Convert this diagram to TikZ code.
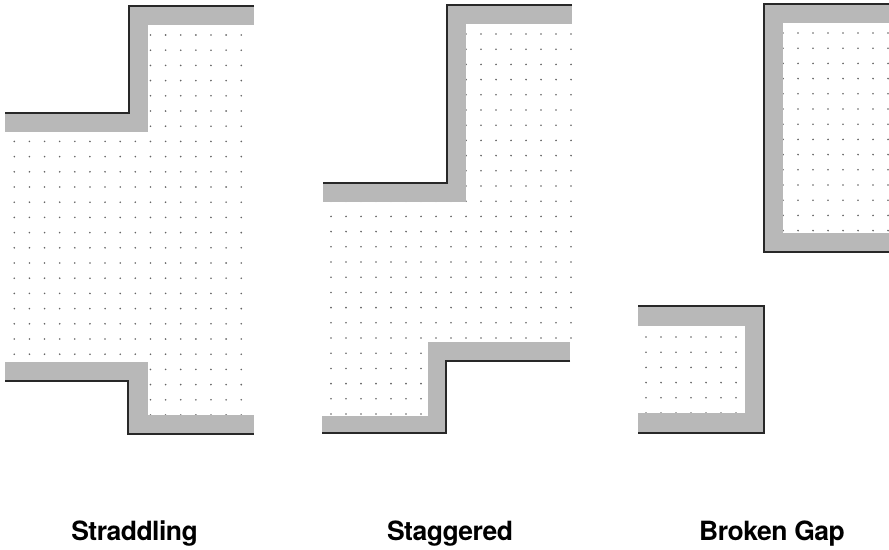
\documentclass[tikz,border=0pt]{standalone}
\usepackage{fontspec}
\setmainfont{TeX Gyre Heros}
\definecolor{band}{RGB}{184,184,184}
\definecolor{edge}{RGB}{40,40,40}
\definecolor{dotc}{RGB}{100,100,100}
\begin{document}
\begin{tikzpicture}[x=1pt,y=-1pt,
  bandfill/.style={fill=band,draw=none},
  edgeline/.style={draw=edge,line width=2.2pt,line join=miter},
  dotmark/.style={fill=dotc},
  captext/.style={anchor=base,inner sep=0pt,font=\fontsize{26.5}{26.5}\selectfont\bfseries\addfontfeature{LetterSpace=-2}}]
\useasboundingbox[fill=white] (0,0) rectangle (889,549);

% ---------- Straddling ----------
\begin{scope}
  \clip (147,24) -- (256,24) -- (256,416) -- (147,416) -- (147,361) -- (4,361) -- (4,131) -- (147,131) -- cycle;
  \foreach \i in {0,...,15} \foreach \j in {0,...,25}
    \fill[dotmark] ({14.3+\i*15.13},{35+\j*15.2}) circle (0.9);
\end{scope}
\fill[bandfill] (129,6) rectangle (254,25);
\fill[bandfill] (129,6) rectangle (148,132);
\fill[bandfill] (5,113) rectangle (148,132);
\draw[edgeline] (254,6) -- (129,6) -- (129,113) -- (5,113);
\fill[bandfill] (5,362) rectangle (148,381);
\fill[bandfill] (128,362) rectangle (148,434);
\fill[bandfill] (128,415) rectangle (254,434);
\draw[edgeline] (5,381) -- (128,381) -- (128,434) -- (254,434);

% ---------- Staggered ----------
\begin{scope}
  \clip (465,23) -- (573,23) -- (573,343) -- (427,343) -- (427,417) -- (322,417) -- (322,201) -- (465,201) -- cycle;
  \foreach \i in {0,...,16} \foreach \j in {0,...,25}
    \fill[dotmark] ({331+\i*15},{34+\j*15.2}) circle (0.9);
\end{scope}
\fill[bandfill] (447,5) rectangle (572,24);
\fill[bandfill] (447,5) rectangle (466,202);
\fill[bandfill] (323,183) rectangle (466,202);
\draw[edgeline] (572,5) -- (447,5) -- (447,183) -- (323,183);
\fill[bandfill] (428,342) rectangle (570,361);
\fill[bandfill] (428,342) rectangle (446,433);
\fill[bandfill] (322,416) rectangle (446,433);
\draw[edgeline] (570,361) -- (446,361) -- (446,433) -- (322,433);

% ---------- Broken Gap ----------
\begin{scope}
  \clip (782,22) rectangle (889,234);
  \foreach \i in {0,...,7} \foreach \j in {0,...,13}
    \fill[dotmark] ({783+\i*15},{33+\j*15.2}) circle (0.9);
\end{scope}
\fill[bandfill] (764,4) rectangle (889,23);
\fill[bandfill] (764,4) rectangle (783,252);
\fill[bandfill] (764,233) rectangle (889,252);
\draw[edgeline] (889,4) -- (764,4) -- (764,252) -- (889,252);
\begin{scope}
  \clip (637,325) rectangle (746,414);
  \foreach \i in {0,...,6} \foreach \j in {0,...,5}
    \fill[dotmark] ({646+\i*15},{337+\j*15.2}) circle (0.9);
\end{scope}
\fill[bandfill] (638,306) rectangle (764,326);
\fill[bandfill] (745,306) rectangle (764,433);
\fill[bandfill] (638,413) rectangle (764,433);
\draw[edgeline] (638,306) -- (764,306) -- (764,433) -- (638,433);

% ---------- captions ----------
\node[captext] (lab1) at (134.5,540) {Straddling};
\node[captext] (lab2) at (450,540) {Staggered};
\node[captext] (lab3) at (772,540) {Broken Gap};
\end{tikzpicture}
\end{document}
